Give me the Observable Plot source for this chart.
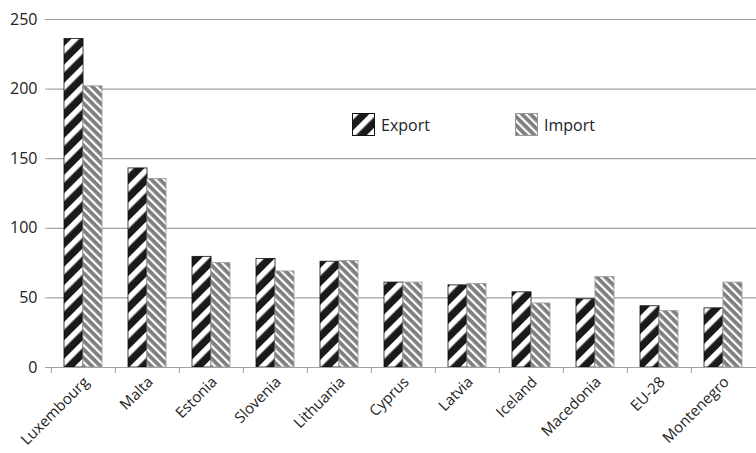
<!DOCTYPE html>
<html>
<head>
<meta charset="utf-8">
<script src="https://cdn.jsdelivr.net/npm/d3@7"></script>
<script src="https://cdn.jsdelivr.net/npm/@observablehq/plot@0.6"></script>
<style>
  html, body { margin: 0; padding: 0; background: #fff; }
  #wrap { position: relative; width: 756px; height: 453px; font-family: "Open Sans", sans-serif; overflow: hidden; }
  .legend { position: absolute; top: 113px; display: flex; align-items: center; font-size: 16px; color: #222; }
  .legend svg { margin-right: 6px; }
</style>
</head>
<body>
<div id="wrap"></div>
<script>
const countries = ["Luxembourg","Malta","Estonia","Slovenia","Lithuania","Cyprus","Latvia","Iceland","Macedonia","EU-28","Montenegro"];
const exportValues = [236, 143, 79.5, 78, 76, 61, 59, 54, 49, 44, 42.5];
const importValues = [202, 135.5, 75, 69, 76.5, 61, 60, 46, 65, 40.5, 61];
const yTicks = [0, 50, 100, 150, 200, 250];
const seriesNames = ["Export", "Import"];

const data = countries.map((c, i) => ({country: c, Export: exportValues[i], Import: importValues[i]}));

const W = 756, H = 453;
const bandStep = (W - 49) / countries.length;
const half = bandStep * (1 - 0.41) / 2;

const chart = Plot.plot({
  width: W,
  height: H,
  marginLeft: 49,
  marginRight: 0,
  marginTop: 19,
  marginBottom: 86,
  style: {fontFamily: "Open Sans, sans-serif", color: "#222", background: "#fff", overflow: "hidden"},
  x: {domain: countries, paddingInner: 0.41, paddingOuter: 0.205, label: null},
  y: {domain: [0, 250], label: null},
  marks: [
    Plot.gridY(yTicks, {stroke: "#a0a0a0", strokeOpacity: 1, strokeWidth: 1.2}),
    Plot.barY(data, {x: "country", y: "Export", fill: "url(#patExport)", stroke: "#111", strokeWidth: 0.8, insetRight: half}),
    Plot.barY(data, {x: "country", y: "Import", fill: "url(#patImport)", stroke: "#999", strokeWidth: 0.8, insetLeft: half}),
    Plot.ruleX([0], {frameAnchor: "left", stroke: "#a0a0a0", strokeWidth: 1.2}),
    Plot.ruleY([0], {stroke: "#a0a0a0", strokeWidth: 1.2}),
    Plot.axisY(yTicks, {tickSize: 4, tickPadding: 8, fontSize: 16, stroke: "#a0a0a0", label: null}),
    Plot.axisX({tickSize: 6, dx: -bandStep / 2, tickFormat: () => "", stroke: "#a0a0a0", label: null}),
    Plot.axisX({tickSize: 0, tickRotate: -45, tickPadding: 12, dx: 3, fontSize: 15, label: null})
  ]
});

const svg = d3.select(chart);
const defs = svg.insert("defs", ":first-child");
const pe = defs.append("pattern").attr("id", "patExport").attr("patternUnits", "userSpaceOnUse")
  .attr("width", 13).attr("height", 13).attr("patternTransform", "rotate(45)");
pe.append("rect").attr("width", 13).attr("height", 13).attr("fill", "#1a1a1a");
pe.append("rect").attr("width", 5.5).attr("height", 13).attr("fill", "#fff");
const pi = defs.append("pattern").attr("id", "patImport").attr("patternUnits", "userSpaceOnUse")
  .attr("width", 6).attr("height", 6).attr("patternTransform", "rotate(-45)");
pi.append("rect").attr("width", 6).attr("height", 6).attr("fill", "#7f7f7f");
pi.append("rect").attr("width", 2.2).attr("height", 6).attr("fill", "#fff");

const wrap = document.getElementById("wrap");
wrap.appendChild(chart);

const legendPos = [352, 515];
seriesNames.forEach((name, i) => {
  const div = document.createElement("div");
  div.className = "legend";
  div.style.left = legendPos[i] + "px";
  const pat = i === 0 ? "patExport" : "patImport";
  const stroke = i === 0 ? "#111" : "#999";
  div.innerHTML = `<svg width="23" height="23"><rect x="0.5" y="0.5" width="22" height="22" fill="url(#${pat})" stroke="${stroke}" stroke-width="1"></rect></svg><span>${name}</span>`;
  wrap.appendChild(div);
});
</script>
</body>
</html>
